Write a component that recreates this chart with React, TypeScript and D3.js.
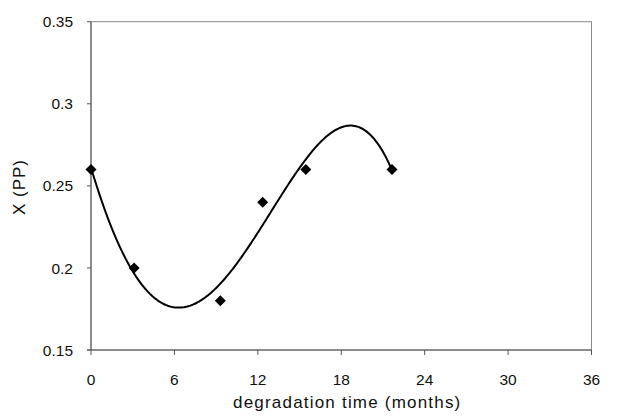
import React, { useMemo } from "react";
import * as d3 from "d3";

const months = [0, 3.1, 9.3, 12.35, 15.45, 21.65];
const xValues = [0.26, 0.2, 0.18, 0.24, 0.26, 0.26];
const xTicks = [0, 6, 12, 18, 24, 30, 36];
const yTicks = [0.15, 0.2, 0.25, 0.3, 0.35];
const yTickLabels = ["0.15", "0.2", "0.25", "0.3", "0.35"];
const xTitle = "degradation time (months)";
const yTitle = "X (PP)";
const trendOrder = 4;

function polyFit(xs: number[], ys: number[], order: number): number[] {
  const s = 10;
  const n = order + 1;
  const A: number[][] = Array.from({ length: n }, () => new Array(n + 1).fill(0));
  xs.forEach((xv, k) => {
    const x = xv / s;
    for (let i = 0; i < n; i++) {
      for (let j = 0; j < n; j++) A[i][j] += Math.pow(x, i + j);
      A[i][n] += ys[k] * Math.pow(x, i);
    }
  });
  for (let c = 0; c < n; c++) {
    let p = c;
    for (let r = c + 1; r < n; r++) if (Math.abs(A[r][c]) > Math.abs(A[p][c])) p = r;
    [A[c], A[p]] = [A[p], A[c]];
    for (let r = 0; r < n; r++) {
      if (r === c) continue;
      const f = A[r][c] / A[c][c];
      for (let k = c; k <= n; k++) A[r][k] -= f * A[c][k];
    }
  }
  const coef = A.map((row, i) => row[n] / row[i]);
  return coef.map((c, i) => c / Math.pow(s, i));
}

export default function App() {
  const W = 618, H = 417;
  const left = 91, right = 591.5, top = 21.7, bottom = 350;
  const x = d3.scaleLinear().domain([0, 36]).range([left, right]);
  const y = d3.scaleLinear().domain([0.15, 0.35]).range([bottom, top]);

  const curve = useMemo(() => {
    const coef = polyFit(months, xValues, trendOrder);
    const f = (t: number) => coef.reduce((a, c, i) => a + c * Math.pow(t, i), 0);
    const lo = d3.min(months) as number, hi = d3.max(months) as number;
    const pts: [number, number][] = d3.range(0, 201).map((i) => {
      const t = lo + ((hi - lo) * i) / 200;
      return [t, f(t)];
    });
    return d3.line<[number, number]>().x((d) => x(d[0])).y((d) => y(d[1]))(pts) || "";
  }, []);

  const font = "'Liberation Sans', Arial, sans-serif";
  const r = 5.5;

  return (
    <svg width={W} height={H} style={{ position: "absolute", left: 0, top: 0, background: "#fff" }}>
      <rect x={left} y={top} width={right - left} height={bottom - top} fill="none" stroke="#8a8a8a" strokeWidth={1} />
      <line x1={left} x2={left} y1={top} y2={bottom} stroke="#555" strokeWidth={1} />
      <line x1={left - 4} x2={right} y1={bottom} y2={bottom} stroke="#555" strokeWidth={1} />
      {yTicks.map((t, i) => (
        <g key={"y" + i}>
          <line x1={left - 4} x2={left} y1={y(t)} y2={y(t)} stroke="#555" />
          <text x={73} y={y(t)} dy="0.36em" textAnchor="end" fontFamily={font} fontSize={15.5} fill="#111">
            {yTickLabels[i]}
          </text>
        </g>
      ))}
      {xTicks.map((t, i) => (
        <g key={"x" + i}>
          <line x1={x(t)} x2={x(t)} y1={bottom} y2={bottom + 5} stroke="#555" />
          <text x={x(t)} y={379} dy="0.36em" textAnchor="middle" fontFamily={font} fontSize={15.5} fill="#111">
            {t}
          </text>
        </g>
      ))}
      <text x={(left + right) / 2 + 6} y={408} textAnchor="middle" fontFamily={font} fontSize={17} letterSpacing={1.2} fill="#111">
        {xTitle}
      </text>
      <text transform={`translate(25,187) rotate(-90)`} textAnchor="middle" fontFamily={font} fontSize={17} letterSpacing={1} fill="#111">
        {yTitle}
      </text>
      <path d={curve} fill="none" stroke="#000" strokeWidth={2} />
      {months.map((m, i) => {
        const cx = x(m), cy = y(xValues[i]);
        return (
          <polygon key={"p" + i} points={`${cx},${cy - r} ${cx + r},${cy} ${cx},${cy + r} ${cx - r},${cy}`} fill="#000" />
        );
      })}
    </svg>
  );
}
